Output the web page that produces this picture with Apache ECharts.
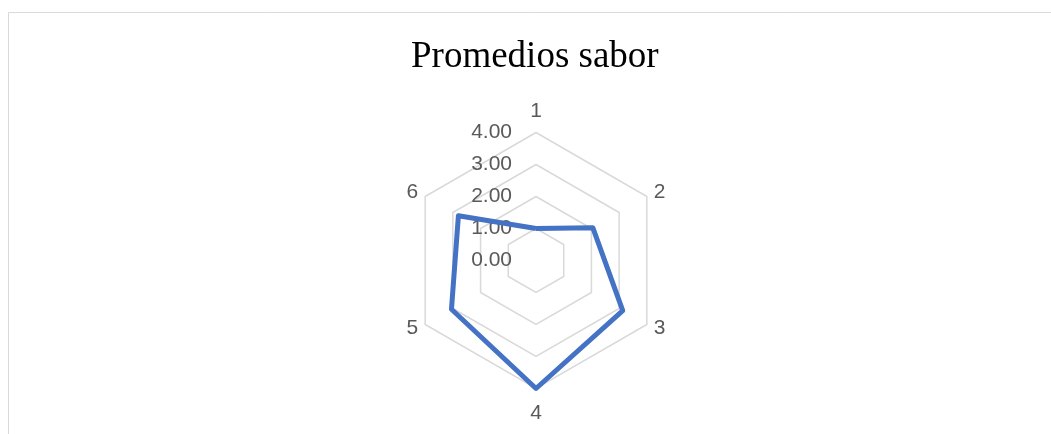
<!DOCTYPE html>
<html>

<head>
  <meta charset="utf-8">
  <title>Promedios sabor</title>
  <style>
    html, body { margin: 0; padding: 0; background: #fff; }
    #chart { width: 1051px; height: 434px; }
  </style>
</head>

<body>
  <div id="chart"></div>
  <script src="https://cdn.jsdelivr.net/npm/echarts@6/dist/echarts.min.js"></script>

  <script type="text/javascript">
    // datos
    var categorias = ['1', '2', '3', '4', '5', '6'];
    var promedios = [1.0, 2.05, 3.13, 4.0, 3.05, 2.8];
    var valorMax = 4;
    var pasos = 4;

    // espacio entre el vertice y el nombre de cada eje
    var separacion = [11, 8, 8, 14, 8, 8];

    // echarts dibuja el radar en sentido antihorario, Excel en sentido horario
    var orden = [0, 5, 4, 3, 2, 1];

    var indicadores = orden.map(function (i) {
      var ind = {
        name: categorias[i],
        min: 0,
        max: valorMax,
        nameGap: separacion[i]
      };
      if (i !== 0 && i !== 3) {
        ind.nameTextStyle = { verticalAlign: 'middle' };
      }
      if (i === 0) {
        // solo el primer eje lleva las etiquetas de escala
        ind.axisLabel = {
          show: true,
          margin: 24,
          padding: [5, 0, 0, 0],
          color: '#595959',
          fontSize: 21,
          fontFamily: 'Liberation Sans',
          formatter: function (v) { return v.toFixed(2); }
        };
      }
      return ind;
    });

    var valores = orden.map(function (i) { return promedios[i]; });

    var chart = echarts.init(document.getElementById('chart'));
    chart.setOption({
      animation: false,
      title: {
        text: 'Promedios sabor',
        left: 411,
        top: 39,
        padding: 0,
        textStyle: {
          fontFamily: 'Liberation Serif',
          fontSize: 37,
          fontWeight: 'normal',
          color: '#000'
        }
      },
      graphic: [{
        type: 'rect',
        shape: { x: 8.5, y: 12.5, width: 1200, height: 600 },
        style: { fill: 'none', stroke: '#d9d9d9', lineWidth: 1 },
        silent: true
      }],
      radar: {
        center: [536, 260.5],
        radius: 128,
        startAngle: 90,
        shape: 'polygon',
        splitNumber: pasos,
        axisName: {
          color: '#595959',
          fontSize: 21,
          fontFamily: 'Liberation Sans'
        },
        axisLine: { show: false },
        axisTick: { show: false },
        axisLabel: { show: false },
        splitArea: { show: false },
        splitLine: { lineStyle: { color: '#d9d9d9', width: 1.5 } },
        indicator: indicadores
      },
      series: [{
        type: 'radar',
        symbol: 'none',
        lineStyle: { color: '#4472c4', width: 5 },
        data: [{ value: valores, name: 'Promedios sabor' }]
      }]
    });
  </script>
</body>

</html>
